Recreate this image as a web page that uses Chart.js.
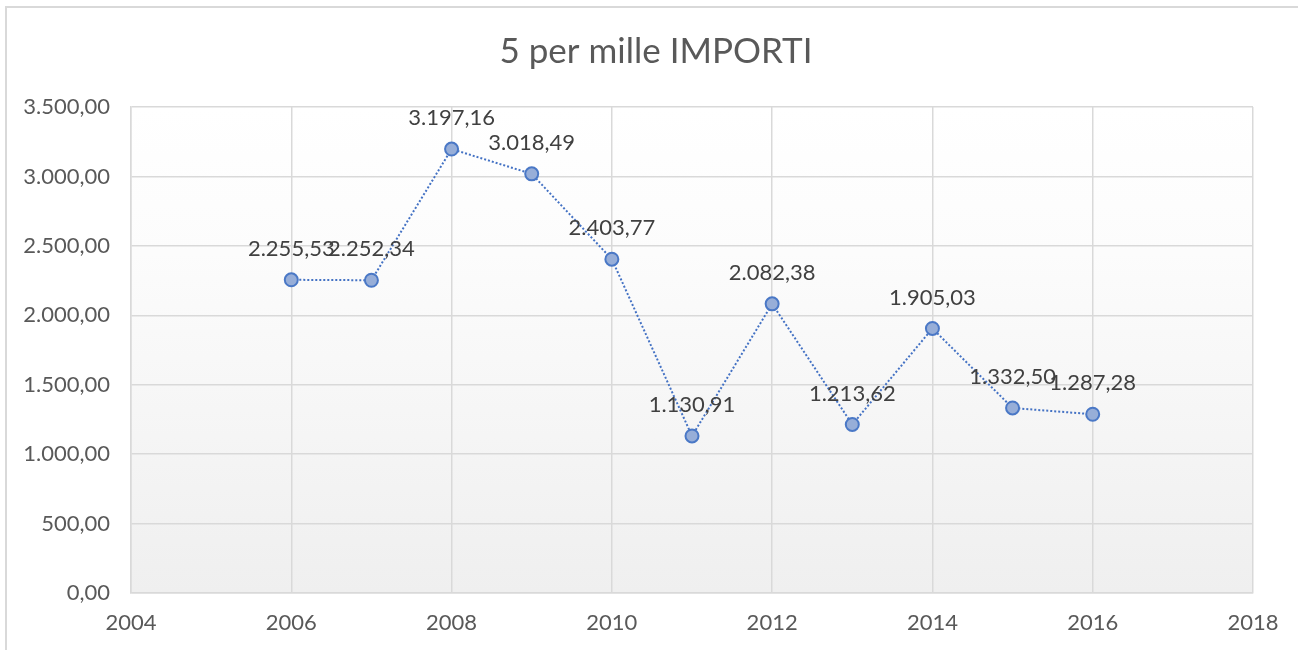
<!DOCTYPE html>
<html>
<head>
<meta charset="utf-8">
<script src="https://cdn.jsdelivr.net/npm/chart.js@4/dist/chart.umd.min.js"></script>
<style>
  html, body { margin: 0; padding: 0; background: #fff; }
  #wrap { width: 1298px; height: 650px; }
</style>
</head>
<body>
<div id="wrap"><canvas id="importiChart" width="1298" height="650"></canvas></div>
<script>
// Data
const years = [2006, 2007, 2008, 2009, 2010, 2011, 2012, 2013, 2014, 2015, 2016];
const importi = [2255.53, 2252.34, 3197.16, 3018.49, 2403.77, 1130.91, 2082.38, 1213.62, 1905.03, 1332.50, 1287.28];
const titleText = '5 per mille IMPORTI';

// 2255.53 -> "2.255,53"
function fmtIt(v){
  const parts = v.toFixed(2).split('.');
  const intPart = parts[0].replace(/\B(?=(\d{3})+(?!\d))/g, '.');
  return intPart + ',' + parts[1];
}

const FONT = 'Lato, "Open Sans", sans-serif';

// outer frame, plot background, title
const framePlugin = {
  id: 'frame',
  beforeDraw(chart){
    const ctx = chart.ctx, a = chart.chartArea;
    ctx.save();
    ctx.strokeStyle = '#d9d9d9';
    ctx.lineWidth = 2;
    ctx.beginPath();
    ctx.moveTo(6, 650); ctx.lineTo(6, 7); ctx.lineTo(1298, 7);
    ctx.stroke();
    const g = ctx.createLinearGradient(0, a.top, 0, a.bottom);
    g.addColorStop(0, '#ffffff');
    g.addColorStop(0.3, '#fcfcfc');
    g.addColorStop(1, '#efefef');
    ctx.fillStyle = g;
    ctx.fillRect(a.left, a.top, a.right - a.left, a.bottom - a.top);
    ctx.fillStyle = '#595959';
    ctx.font = '35px ' + FONT;
    ctx.textAlign = 'center';
    ctx.textBaseline = 'middle';
    ctx.fillText(titleText, 656, 52);
    ctx.restore();
  }
};

// value labels above points
const labelPlugin = {
  id: 'valueLabels',
  afterDatasetsDraw(chart){
    const ctx = chart.ctx;
    const meta = chart.getDatasetMeta(0);
    ctx.save();
    ctx.fillStyle = '#404040';
    ctx.font = '22px ' + FONT;
    ctx.textAlign = 'center';
    ctx.textBaseline = 'middle';
    meta.data.forEach((pt, i) => {
      ctx.fillText(fmtIt(importi[i]), pt.x, pt.y - 31);
    });
    ctx.restore();
  }
};

const ctx = document.getElementById('importiChart').getContext('2d');
new Chart(ctx, {
  type: 'scatter',
  data: {
    datasets: [{
      label: titleText,
      data: years.map((y, i) => ({ x: y, y: importi[i] })),
      showLine: true,
      borderColor: '#4472C4',
      borderWidth: 2,
      borderDash: [2, 2],
      pointRadius: 6.5,
      pointHoverRadius: 6.5,
      pointBackgroundColor: '#97aed8',
      pointBorderColor: '#4a78c6',
      pointBorderWidth: 2
    }]
  },
  options: {
    responsive: false,
    animation: false,
    layout: { padding: { top: 107, right: 45, left: 0, bottom: 0 } },
    plugins: {
      legend: { display: false },
      tooltip: { enabled: false },
      title: { display: false }
    },
    scales: {
      x: {
        type: 'linear',
        min: 2004, max: 2018,
        ticks: {
          stepSize: 2,
          padding: 17,
          color: '#595959',
          font: { family: FONT, size: 22 },
          callback: v => String(v)
        },
        grid: { color: '#d9d9d9', lineWidth: 1.5, drawTicks: false },
        border: { color: '#d9d9d9', width: 1.5 },
        afterFit: s => { s.height = 57; }
      },
      y: {
        min: 0, max: 3500,
        ticks: {
          stepSize: 500,
          padding: 21,
          color: '#595959',
          font: { family: FONT, size: 22 },
          callback: v => fmtIt(v)
        },
        grid: { color: '#d9d9d9', lineWidth: 1.5, drawTicks: false },
        border: { color: '#d9d9d9', width: 1.5 },
        afterFit: s => { s.width = 131; }
      }
    }
  },
  plugins: [framePlugin, labelPlugin]
});
</script>
</body>
</html>
